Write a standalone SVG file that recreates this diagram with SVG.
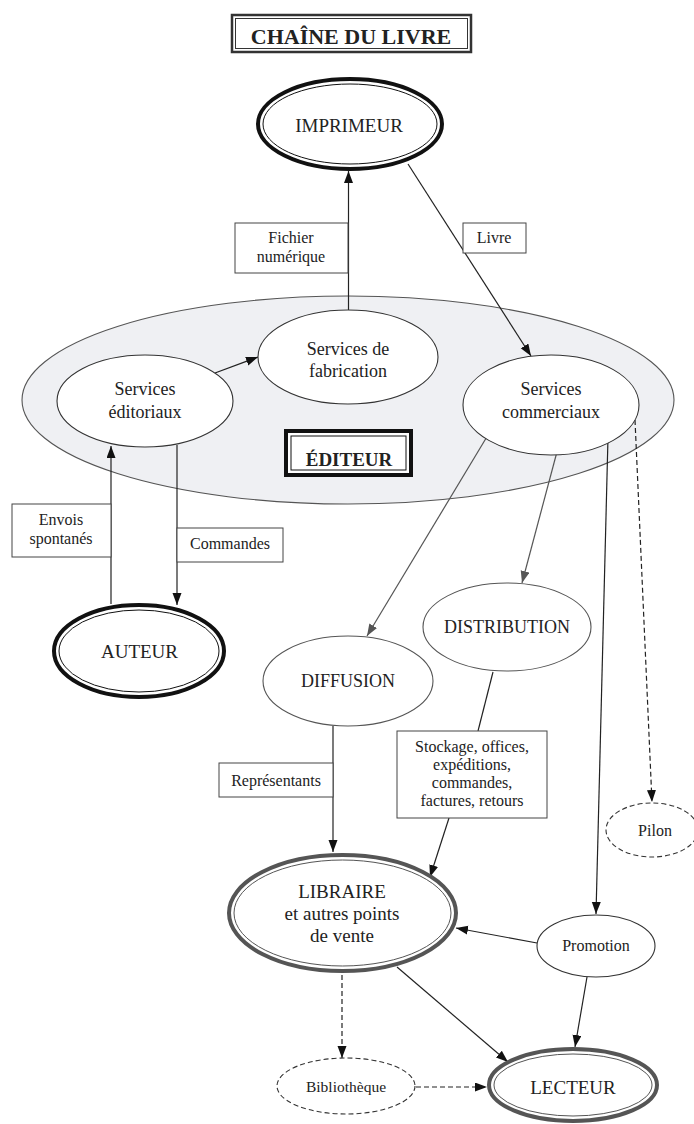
<svg xmlns="http://www.w3.org/2000/svg" width="694" height="1124" viewBox="0 0 694 1124">
<style>
text{font-family:"Liberation Serif","Times New Roman",serif;fill:#222;text-anchor:middle}
.t18{font-size:18px}
.t19{font-size:19px}
.t16{font-size:16px}
.tb{font-weight:bold}
.node{fill:#fff;stroke:#333;stroke-width:1.1}
.nodeg{fill:#fff;stroke:#555;stroke-width:1.1}
.dblk{fill:#fff;stroke:#111;stroke-width:4}
.dblg{fill:#fff;stroke:#555;stroke-width:4}
.inner{fill:none;stroke:#111;stroke-width:1}
.innerg{fill:none;stroke:#555;stroke-width:1}
.dash{fill:#fff;stroke:#333;stroke-width:1.1;stroke-dasharray:5 3}
.lbl{fill:#fff;stroke:#444;stroke-width:1}
.c{fill:none;stroke:#222;stroke-width:1.2}
.cg{fill:none;stroke:#555;stroke-width:1.2}
.cd{fill:none;stroke:#222;stroke-width:1.2;stroke-dasharray:5 3}
</style>
<defs>
<marker id="ab" markerUnits="userSpaceOnUse" markerWidth="13" markerHeight="10" refX="12" refY="4.5" orient="auto"><path d="M0,0 L12,4.5 L0,9 Z" fill="#111"/></marker>
<marker id="ag" markerUnits="userSpaceOnUse" markerWidth="13" markerHeight="10" refX="12" refY="4.5" orient="auto"><path d="M0,0 L12,4.5 L0,9 Z" fill="#555"/></marker>
</defs>

<g id="title">
<rect x="232" y="15" width="239" height="37" fill="#fff" stroke="#333" stroke-width="2.5"/>
<rect x="235.5" y="18.5" width="232" height="30" fill="none" stroke="#333" stroke-width="1"/>
<text x="351" y="44" class="tb" style="font-size:22px">CHAÎNE DU LIVRE</text>
</g>

<g id="editeur">
<ellipse cx="348" cy="400" rx="326" ry="104" fill="#eff0f3" stroke="#555" stroke-width="1.1"/>
</g>

<g id="connectors">
<line class="c" x1="348.5" y1="310" x2="348.5" y2="171" marker-end="url(#ab)"/>
<line class="c" x1="408" y1="164" x2="531" y2="356" marker-end="url(#ab)"/>
<line class="c" x1="215" y1="373" x2="258" y2="357" marker-end="url(#ab)"/>
<line class="c" x1="111" y1="604" x2="111" y2="446" marker-end="url(#ab)"/>
<line class="c" x1="177" y1="445" x2="177" y2="605" marker-end="url(#ab)"/>
<line class="cg" x1="488" y1="435" x2="367" y2="636" marker-end="url(#ag)"/>
<line class="cg" x1="558" y1="448" x2="522" y2="583" marker-end="url(#ag)"/>
<line class="c" x1="608" y1="437" x2="596" y2="914" marker-end="url(#ab)"/>
<line class="cd" x1="635" y1="420" x2="652" y2="802" marker-end="url(#ab)"/>
<line class="c" x1="333" y1="726" x2="333" y2="852" marker-end="url(#ab)"/>
<line class="c" x1="493" y1="672" x2="478" y2="731"/>
<line class="c" x1="449" y1="818" x2="430" y2="877" marker-end="url(#ab)"/>
<line class="c" x1="537" y1="943" x2="456" y2="928" marker-end="url(#ab)"/>
<line class="c" x1="587" y1="977" x2="575" y2="1047" marker-end="url(#ab)"/>
<line class="c" x1="397" y1="967" x2="508" y2="1062" marker-end="url(#ab)"/>
<line class="cd" x1="342" y1="975" x2="342" y2="1058" marker-end="url(#ab)"/>
<line class="cd" x1="416" y1="1087" x2="487" y2="1087" marker-end="url(#ab)"/>
</g>

<g id="imprimeur">
<ellipse class="dblk" cx="350" cy="124" rx="92" ry="45"/>
<ellipse class="inner" cx="350" cy="124" rx="87" ry="40"/>
<text x="349" y="132" class="t19">IMPRIMEUR</text>
</g>

<g id="label-fichier">
<rect class="lbl" x="235" y="223" width="113" height="50"/>
<text x="291" y="243" class="t16">Fichier</text>
<text x="291" y="262" class="t16">numérique</text>
</g>

<g id="label-livre">
<rect class="lbl" x="463" y="223" width="63" height="30"/>
<text x="494" y="243" class="t16">Livre</text>
</g>

<g id="services-editoriaux">
<ellipse class="node" cx="145" cy="401" rx="88" ry="46"/>
<text x="145" y="395" class="t18">Services</text>
<text x="145" y="418" class="t18">éditoriaux</text>
</g>

<g id="services-fabrication">
<ellipse class="node" cx="348" cy="357" rx="90" ry="47"/>
<text x="348" y="355" class="t18">Services de</text>
<text x="348" y="377" class="t18">fabrication</text>
</g>

<g id="services-commerciaux">
<ellipse class="node" cx="551" cy="405" rx="88" ry="50"/>
<text x="551" y="395" class="t18">Services</text>
<text x="551" y="418" class="t18">commerciaux</text>
</g>

<g id="editeur-label">
<rect x="286" y="431" width="125" height="44" fill="#fff" stroke="#111" stroke-width="4"/>
<rect x="291" y="436" width="115" height="34" fill="none" stroke="#111" stroke-width="1"/>
<text x="349" y="466" class="t19 tb">ÉDITEUR</text>
</g>

<g id="label-envois">
<rect class="lbl" x="12" y="504" width="99" height="53"/>
<text x="61" y="525" class="t16">Envois</text>
<text x="61" y="544" class="t16">spontanés</text>
</g>

<g id="label-commandes">
<rect class="lbl" x="177" y="528" width="106" height="34"/>
<text x="230" y="549" class="t16">Commandes</text>
</g>

<g id="auteur">
<ellipse class="dblk" cx="139" cy="651" rx="85" ry="46"/>
<ellipse class="inner" cx="139" cy="651" rx="80" ry="41"/>
<text x="139.5" y="658" class="t19">AUTEUR</text>
</g>

<g id="distribution">
<ellipse class="nodeg" cx="507" cy="627" rx="84" ry="44"/>
<text x="507" y="633" class="t18">DISTRIBUTION</text>
</g>

<g id="diffusion">
<ellipse class="nodeg" cx="348" cy="681" rx="85" ry="45"/>
<text x="348" y="687" class="t18">DIFFUSION</text>
</g>

<g id="label-representants">
<rect class="lbl" x="219" y="763" width="114" height="34"/>
<text x="276" y="786" class="t16">Représentants</text>
</g>

<g id="label-stockage">
<rect class="lbl" x="397" y="731" width="150" height="87"/>
<text x="472" y="752" class="t16">Stockage, offices,</text>
<text x="472" y="770" class="t16">expéditions,</text>
<text x="472" y="788" class="t16">commandes,</text>
<text x="472" y="806" class="t16">factures, retours</text>
</g>

<g id="pilon">
<ellipse class="dash" cx="652" cy="830" rx="46" ry="27"/>
<text x="655" y="836" class="t16">Pilon</text>
</g>

<g id="libraire">
<ellipse class="dblg" cx="342.5" cy="913" rx="113.5" ry="58"/>
<ellipse class="innerg" cx="342.5" cy="913" rx="108.5" ry="53"/>
<text x="342" y="898" class="t19">LIBRAIRE</text>
<text x="342" y="920" class="t19">et autres points</text>
<text x="342" y="942" class="t19">de vente</text>
</g>

<g id="promotion">
<ellipse class="node" cx="596" cy="946" rx="59" ry="31"/>
<text x="596" y="951" class="t16">Promotion</text>
</g>

<g id="bibliotheque">
<ellipse class="dash" cx="346" cy="1086" rx="69" ry="28"/>
<text x="346" y="1092" style="font-size:15.5px">Bibliothèque</text>
</g>

<g id="lecteur">
<ellipse class="dblg" cx="573" cy="1085" rx="84" ry="36"/>
<ellipse class="innerg" cx="573" cy="1085" rx="79" ry="31"/>
<text x="573" y="1094" class="t19">LECTEUR</text>
</g>
</svg>
